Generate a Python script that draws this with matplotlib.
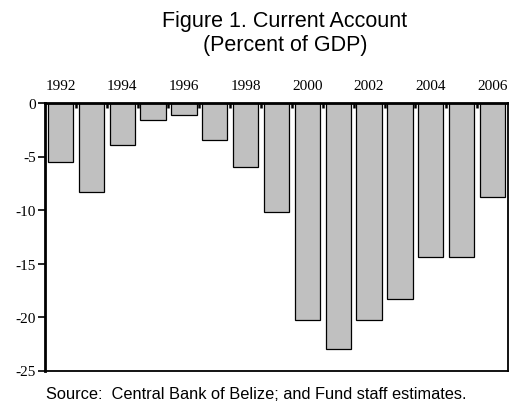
import matplotlib
matplotlib.use("Agg")
import matplotlib.pyplot as plt
import numpy as np

# data
years = list(range(1992, 2007))
current_account = [-5.5, -8.3, -3.9, -1.6, -1.1, -3.5, -6.0, -10.2,
                   -20.3, -23.0, -20.3, -18.3, -14.4, -14.4, -8.8]
y_ticks = [0, -5, -10, -15, -20, -25]
year_labels = [str(y) if y % 2 == 0 else "" for y in years]

SERIF = "Liberation Serif"
SANS = "Liberation Sans"

fig = plt.figure(figsize=(5.1, 4.06), dpi=100)
ax = fig.add_axes([45 / 510, 1 - 371.5 / 406, 463 / 510, 267.5 / 406])

x = np.arange(len(years))
ax.bar(x, current_account, width=0.82, color="#c0c0c0",
       edgecolor="black", linewidth=0.9, zorder=1)

ax.set_xlim(-0.5, len(years) - 0.5)
ax.set_ylim(-25, 0)

# years on top, ticks at the category boundaries
ax.xaxis.tick_top()
ax.set_xticks(x)
ax.set_xticklabels(year_labels, fontfamily=SERIF, fontsize=11)
ax.tick_params(axis="x", which="major", length=0, pad=8)
ax.set_xticks(np.arange(0.5, len(years) - 0.5, 1), minor=True)
ax.tick_params(axis="x", which="minor", direction="in", length=3.5,
               width=1.8, top=True, bottom=False)

ax.set_yticks(y_ticks)
ax.set_yticklabels([str(v) for v in y_ticks], fontfamily=SERIF, fontsize=11)
ax.tick_params(axis="y", direction="out", length=5, width=1.2, pad=1.5)

ax.spines["top"].set_linewidth(2)
ax.spines["left"].set_linewidth(2)
ax.spines["bottom"].set_linewidth(1.3)
ax.spines["right"].set_linewidth(1.3)

fig.text(285 / 510, 1 - 22 / 406, "Figure 1. Current Account",
         ha="center", va="center", fontfamily=SANS, fontsize=15.5)
fig.text(285 / 510, 1 - 46 / 406, "(Percent of GDP)",
         ha="center", va="center", fontfamily=SANS, fontsize=15.5)
fig.text(46 / 510, 1 - 395 / 406,
         "Source:  Central Bank of Belize; and Fund staff estimates.",
         ha="left", va="center", fontfamily=SANS, fontsize=11.8)

fig.savefig("out.png", dpi=100)
